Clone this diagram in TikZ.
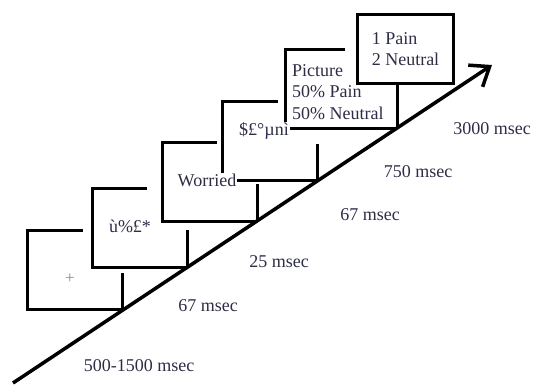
\documentclass[tikz,border=0pt]{standalone}
\usepackage{fontspec}
\setmainfont{Liberation Serif}
\usetikzlibrary{arrows.meta,calc}
\definecolor{ink}{RGB}{45,45,70}
\begin{document}
\begin{tikzpicture}[x=1pt, y=-1pt, >={Straight Barb[length=17pt,width=26pt]},
  frame/.style={line width=3pt},
  txt/.style={text=ink, font=\fontsize{18}{21.5}\selectfont, inner sep=1pt},
  mask/.style={txt, fill=white}]
  \useasboundingbox (0,0) rectangle (538,387);
  % time axis
  \coordinate (start) at (13,383);
  \coordinate (end) at (492,65);
  \foreach \n/\t in {1/0.2296, 2/0.3633, 3/0.5094, 4/0.6367, 5/0.8017}
    \coordinate (c\n) at ($(start)!\t!(end)$);
  % screens
  \foreach \n in {1,...,4}
    \draw[frame] (c\n) -- ++(0,-37) (c\n) -- ++(-95,0) -- ++(0,-79) -- ++(55,0);
  \draw[frame] (c5) -- ++(-112,0) -- ++(0,-79) -- ++(60,0);
  \node[draw, frame, txt, align=left, minimum width=96pt, minimum height=69pt,
    anchor=north west] (choice) at (356,13) {1 Pain\\2 Neutral};
  \draw[frame] (c5) -- (c5 |- choice.south);
  \draw[line width=3.5pt, ->] (start) -- (end);
  % screen contents
  \node[txt, text=black!45, font=\fontsize{17}{17}\selectfont] (fix) at (70,279) {+};
  \node[txt] (prime) at (130,226) {ù\%£*};
  \node[mask] (word) at (207,180) {Worried};
  \node[mask] (mask) at (264,131) {\$£°µnì};
  \node[txt, align=left, anchor=west] (pic) at (291,92) {Picture\\50\% Pain\\50\% Neutral};
  % durations
  \node[txt] (d1) at (139,366) {500-1500 msec};
  \node[txt] (d2) at (208,306) {67 msec};
  \node[txt] (d3) at (279,262) {25 msec};
  \node[txt] (d4) at (370,215) {67 msec};
  \node[txt] (d5) at (418,172) {750 msec};
  \node[txt] (d6) at (492,129) {3000 msec};
\end{tikzpicture}
\end{document}
